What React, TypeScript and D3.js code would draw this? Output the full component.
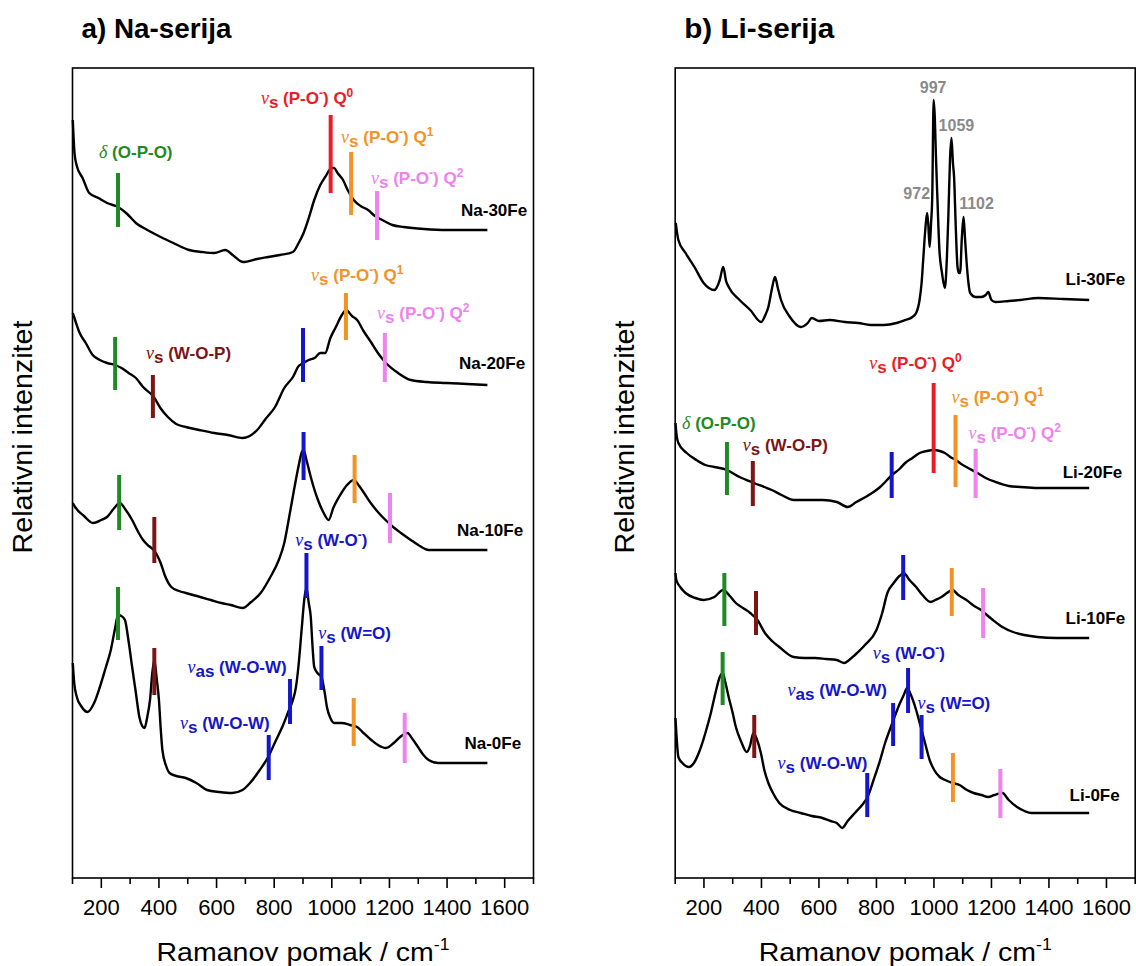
import * as d3 from "d3";

type Pt = [number, number];

// x axis
const majorTicks = [200, 400, 600, 800, 1000, 1200, 1400, 1600];
const minorTicks = [100, 300, 500, 700, 900, 1100, 1300, 1500, 1700];

// Na series (Raman shift cm-1, relative intensity incl. stacking offset)
const na30: Pt[] = [
  [101, 758], [107, 725], [115, 712], [135, 700], [158, 685], [190, 680], [220, 675], [258, 671],
  [290, 664], [320, 655], [360, 648], [406, 641], [450, 635], [505, 628], [550, 626], [592, 625],
  [630, 628], [660, 622], [692, 616], [740, 619], [779, 621], [820, 623], [865, 626], [885, 635],
  [902, 645], [920, 660], [939, 678], [960, 693], [977, 701], [1000, 710], [1008, 710], [1020, 705],
  [1039, 698], [1055, 688], [1076, 678], [1100, 672], [1126, 668], [1150, 662], [1175, 658],
  [1210, 653], [1250, 651], [1320, 649], [1398, 648], [1470, 648], [1540, 648],
];
const na20: Pt[] = [
  [101, 565], [109, 558], [125, 545], [146, 535], [170, 523], [195, 518], [220, 515], [248, 513],
  [270, 510], [295, 505], [320, 500], [345, 491], [382, 481], [405, 470], [431, 461], [460, 454],
  [493, 451], [540, 448], [592, 445], [640, 443], [691, 440], [741, 448], [770, 459], [803, 471],
  [835, 490], [865, 501], [885, 512], [902, 515], [920, 518], [940, 520], [960, 525], [977, 525],
  [995, 540], [1014, 551], [1035, 563], [1050, 568], [1070, 562], [1088, 558], [1110, 547],
  [1138, 535], [1160, 525], [1188, 515], [1230, 505], [1274, 498], [1330, 496], [1398, 495],
  [1470, 494], [1540, 493],
];
const na10: Pt[] = [
  [101, 375], [109, 371], [140, 362], [171, 355], [200, 358], [220, 361], [245, 370], [264, 375],
  [285, 368], [307, 358], [330, 345], [345, 338], [365, 332], [382, 328], [395, 322], [406, 315],
  [420, 303], [443, 291], [470, 287], [493, 285], [543, 281], [580, 278], [617, 275], [650, 273],
  [691, 270], [720, 276], [753, 285], [785, 300], [816, 318], [835, 335], [852, 361], [870, 390],
  [884, 411], [895, 425], [902, 428], [912, 418], [927, 401], [940, 388], [952, 378], [970, 366],
  [989, 358], [1005, 370], [1025, 381], [1050, 392], [1076, 398], [1095, 392], [1112, 385],
  [1135, 375], [1163, 365], [1190, 357], [1213, 351], [1240, 345], [1274, 338], [1300, 333],
  [1336, 328], [1400, 328], [1470, 328], [1540, 328],
];
const na0: Pt[] = [
  [101, 215], [106, 195], [115, 181], [130, 172], [152, 166], [175, 175], [195, 191], [215, 210],
  [233, 228], [248, 250], [258, 263], [270, 262], [282, 258], [295, 236], [307, 211], [320, 185],
  [332, 161], [342, 152], [350, 150], [360, 162], [369, 178], [377, 205], [384, 218], [392, 200],
  [400, 178], [406, 150], [412, 128], [425, 112], [437, 105], [460, 102], [493, 100], [530, 95],
  [567, 88], [610, 86], [654, 85], [690, 88], [716, 95], [750, 108], [779, 121], [805, 137],
  [828, 151], [850, 167], [865, 178], [875, 190], [884, 211], [896, 251], [905, 280], [912, 290],
  [920, 275], [927, 261], [933, 232], [939, 211], [950, 205], [964, 201], [975, 186], [983, 171],
  [995, 160], [1008, 155], [1035, 155], [1063, 153], [1088, 151], [1110, 145], [1137, 138],
  [1160, 133], [1188, 130], [1215, 135], [1237, 141], [1262, 145], [1280, 139], [1299, 131],
  [1318, 123], [1336, 118], [1370, 115], [1411, 115], [1470, 115], [1540, 115],
];

// Li series
const li30: Pt[] = [
  [102, 655], [111, 638], [136, 625], [167, 611], [199, 595], [236, 588], [255, 598], [267, 611],
  [277, 597], [286, 591], [324, 578], [361, 568], [399, 556], [412, 562], [424, 571], [437, 590],
  [447, 601], [457, 590], [468, 578], [499, 561], [537, 551], [561, 555], [575, 560], [600, 557],
  [637, 558], [690, 556], [737, 555], [780, 553], [825, 553], [870, 555], [900, 558], [925, 561],
  [938, 565], [950, 578], [957, 595], [963, 620], [969, 645], [976, 665], [980, 655], [985, 631],
  [990, 655], [994, 680], [999, 778], [1003, 760], [1007, 721], [1012, 680], [1019, 628],
  [1028, 605], [1038, 590], [1045, 620], [1050, 661], [1056, 720], [1061, 740], [1066, 715],
  [1070, 701], [1076, 650], [1082, 611], [1087, 605], [1091, 605], [1097, 640], [1103, 661],
  [1108, 640], [1113, 618], [1120, 595], [1126, 585], [1145, 581], [1164, 581], [1180, 583],
  [1189, 586], [1200, 578], [1214, 576], [1260, 577], [1300, 578], [1363, 580], [1450, 579],
  [1540, 578],
];
const li20: Pt[] = [
  [101, 455], [104, 445], [111, 435], [140, 425], [174, 418], [205, 413], [236, 411], [280, 408],
  [324, 401], [374, 395], [410, 391], [436, 388], [470, 383], [512, 378], [560, 378], [612, 378],
  [662, 376], [700, 371], [730, 376], [762, 381], [790, 386], [813, 391], [854, 403], [880, 409],
  [900, 415], [925, 420], [950, 425], [975, 427], [1001, 428], [1020, 427], [1038, 425],
  [1057, 421], [1076, 418], [1095, 414], [1113, 411], [1151, 405], [1180, 400], [1214, 396],
  [1260, 392], [1301, 391], [1360, 390], [1426, 390], [1540, 390],
];
const li10: Pt[] = [
  [101, 305], [104, 298], [120, 290], [136, 285], [170, 280], [199, 278], [236, 281], [267, 288],
  [290, 282], [311, 275], [336, 270], [361, 265], [386, 258], [412, 245], [437, 237], [462, 231],
  [512, 221], [550, 220], [587, 220], [625, 219], [662, 218], [688, 215], [705, 218], [725, 223],
  [760, 233], [800, 248], [820, 265], [838, 285], [860, 295], [880, 302], [895, 305], [915, 298],
  [938, 291], [960, 283], [988, 276], [1005, 278], [1026, 281], [1045, 285], [1064, 288],
  [1085, 283], [1113, 278], [1140, 272], [1164, 268], [1176, 265], [1205, 258], [1238, 251],
  [1275, 246], [1314, 243], [1360, 241], [1426, 240], [1540, 240],
];
const li0: Pt[] = [
  [101, 160], [104, 145], [111, 121], [125, 115], [148, 111], [165, 115], [186, 128], [205, 145],
  [224, 165], [240, 185], [255, 201], [265, 205], [275, 195], [286, 181], [300, 165], [311, 151],
  [330, 136], [349, 126], [360, 132], [372, 145], [385, 138], [398, 125], [410, 108], [424, 95],
  [440, 85], [462, 75], [500, 68], [537, 65], [575, 62], [612, 60], [640, 57], [662, 55], [681, 50],
  [700, 57], [725, 65], [750, 73], [769, 81], [790, 98], [813, 118], [830, 135], [850, 151],
  [868, 165], [882, 175], [895, 183], [907, 190], [920, 183], [938, 168], [955, 150], [969, 135],
  [985, 118], [1001, 108], [1020, 101], [1039, 98], [1065, 95], [1089, 93], [1115, 88], [1138, 85],
  [1165, 83], [1189, 81], [1210, 83], [1238, 85], [1260, 78], [1289, 71], [1315, 67], [1339, 65],
  [1400, 65], [1470, 65], [1540, 65],
];

// sample names and where their label ends (cm-1, intensity)
const naNames: [string, number, number][] = [
  ["Na-30Fe", 1678, 662], ["Na-20Fe", 1671, 509], ["Na-10Fe", 1664, 342], ["Na-0Fe", 1657, 129],
];
const liNames: [string, number, number][] = [
  ["Li-30Fe", 1665, 593], ["Li-20Fe", 1655, 400], ["Li-10Fe", 1665, 254], ["Li-0Fe", 1646, 77],
];

// band markers: mode, position, from, to
const naBands: [string, number, number, number][] = [
  ["OPO", 258, 651, 705], ["Q0", 996, 685, 763], ["Q1", 1067, 663, 726], ["Q2", 1157, 638, 687],
  ["OPO", 248, 488, 541], ["WOP", 379, 460, 503], ["W", 900, 496, 550], ["Q1", 1049, 538, 585],
  ["Q2", 1184, 496, 545],
  ["OPO", 262, 348, 403], ["WOP", 384, 315, 361], ["W", 902, 398, 446], ["Q1", 1079, 375, 423],
  ["Q2", 1202, 335, 385],
  ["OPO", 258, 238, 291], ["WOP", 384, 183, 230], ["W", 781, 98, 143], ["W", 855, 154, 199],
  ["W", 912, 280, 325], ["W", 964, 188, 232], ["Q1", 1076, 132, 180], ["Q2", 1253, 115, 165],
];
const liBands: [string, number, number, number][] = [
  ["OPO", 280, 383, 436], ["WOP", 370, 372, 417], ["W", 853, 380, 426], ["Q0", 999, 405, 495],
  ["Q1", 1075, 391, 463], ["Q2", 1145, 380, 429],
  ["OPO", 271, 252, 305], ["WOP", 381, 243, 287], ["W", 893, 278, 323], ["Q1", 1062, 262, 310],
  ["Q2", 1171, 240, 290],
  ["OPO", 265, 173, 226], ["WOP", 375, 120, 163], ["W", 768, 61, 105], ["W", 858, 132, 175],
  ["W", 910, 165, 210], ["W", 957, 119, 163], ["Q1", 1066, 76, 125], ["Q2", 1231, 60, 109],
];

// band assignment labels: mode, start (cm-1), baseline (intensity)
const naBandLabels: [string, number, number][] = [
  ["OPO", 192, 720], ["Q0", 754, 774], ["Q1", 1032, 735], ["Q2", 1136, 694], ["Q1", 928, 597],
  ["Q2", 1157, 559], ["WOP", 355, 519], ["WOm", 873, 332], ["WdO", 953, 239], ["asWOW", 499, 205],
  ["sWOW", 473, 149],
];
const liBandLabels: [string, number, number][] = [
  ["Q0", 775, 509], ["Q1", 1061, 475], ["Q2", 1120, 439], ["OPO", 124, 449], ["WOP", 335, 427],
  ["WOm", 787, 219], ["asWOW", 491, 182], ["WdO", 943, 169], ["sWOW", 456, 109],
];

// Li-30Fe peak positions: text, centre (cm-1), baseline (intensity)
const liPeaks: [string, number, number][] = [
  ["997", 997, 785], ["1059", 1078, 747], ["972", 940, 679], ["1102", 1148, 669],
];

type Seg = [string, string];
const bandText: Record<string, Seg[]> = {
  OPO: [["g", "δ"], ["n", " (O-P-O)"]],
  Q0: [["g", "ν"], ["sub", "s"], ["n", " (P-O"], ["sup", "-"], ["n", ") Q"], ["sup", "0"]],
  Q1: [["g", "ν"], ["sub", "s"], ["n", " (P-O"], ["sup", "-"], ["n", ") Q"], ["sup", "1"]],
  Q2: [["g", "ν"], ["sub", "s"], ["n", " (P-O"], ["sup", "-"], ["n", ") Q"], ["sup", "2"]],
  WOP: [["g", "ν"], ["sub", "s"], ["n", " (W-O-P)"]],
  WOm: [["g", "ν"], ["sub", "s"], ["n", " (W-O"], ["sup", "-"], ["n", ")"]],
  WdO: [["g", "ν"], ["sub", "s"], ["n", " (W=O)"]],
  asWOW: [["g", "ν"], ["sub", "as"], ["n", " (W-O-W)"]],
  sWOW: [["g", "ν"], ["sub", "s"], ["n", " (W-O-W)"]],
};
const bandColor: Record<string, string> = {
  OPO: "#1f8a24", Q0: "#ec1c24", Q1: "#f39325", Q2: "#ee82ee", WOP: "#7d1416",
  W: "#1515cc", WOm: "#1515cc", WdO: "#1515cc", asWOW: "#1515cc", sWOW: "#1515cc",
};

const FONT = "Liberation Sans, Arial, sans-serif";
const yScale = d3.scaleLinear().domain([0, 810]).range([878, 68]);

function Segs({ segs }: { segs: Seg[] }) {
  let shift = 0;
  return (
    <>
      {segs.map(([k, t], i) => {
        const target = k === "sup" ? -7 : k === "sub" ? 4 : 0;
        const dy = target - shift;
        shift = target;
        return (
          <tspan
            key={i}
            dy={dy}
            fontSize={k === "sup" ? 12 : k === "g" ? 18 : undefined}
            fontFamily={k === "g" ? "Liberation Serif, serif" : undefined}
            fontStyle={k === "g" ? "italic" : undefined}
            fontWeight={k === "g" ? "normal" : undefined}
          >
            {t}
          </tspan>
        );
      })}
    </>
  );
}

function Panel(props: {
  x0: number; x1: number; title: string; yTitleX: number;
  series: Pt[][]; names: [string, number, number][];
  bands: [string, number, number, number][]; bandLabels: [string, number, number][];
  peaks?: [string, number, number][];
}) {
  const { x0, x1, title, yTitleX, series, names, bands, bandLabels, peaks } = props;
  const x = d3.scaleLinear().domain([100, 1700]).range([x0, x1]);
  const line = d3.line<Pt>().x((d) => x(d[0])).y((d) => yScale(d[1])).curve(d3.curveMonotoneX);
  const [yb, yt] = yScale.range();
  const cx = (x0 + x1) / 2;

  return (
    <g fontFamily={FONT}>
      <text x={x0 + 9} y={38} fontSize={27} fontWeight="bold" textLength={150} lengthAdjust="spacingAndGlyphs">
        {title}
      </text>
      {series.map((s, i) => (
        <path key={i} d={line(s) ?? ""} fill="none" stroke="#000" strokeWidth={2.4} strokeLinejoin="round" />
      ))}
      {bands.map(([m, p, lo, hi], i) => (
        <line key={i} x1={x(p)} x2={x(p)} y1={yScale(lo)} y2={yScale(hi)} stroke={bandColor[m]} strokeWidth={4} />
      ))}
      {bandLabels.map(([m, p, b], i) => (
        <text key={i} x={x(p)} y={yScale(b)} fontSize={17} fontWeight="bold" fill={bandColor[m]}>
          <Segs segs={bandText[m]} />
        </text>
      ))}
      {(peaks ?? []).map(([t, p, b], i) => (
        <text key={i} x={x(p)} y={yScale(b)} fontSize={16} fontWeight="bold" fill="#8a8a8a" textAnchor="middle">
          {t}
        </text>
      ))}
      {names.map(([t, p, b], i) => (
        <text key={i} x={x(p)} y={yScale(b)} fontSize={17} fontWeight="bold" textAnchor="end">
          {t}
        </text>
      ))}
      <rect x={x0} y={yt} width={x1 - x0} height={yb - yt} fill="none" stroke="#000" strokeWidth={1.6} />
      {majorTicks.map((t) => (
        <g key={t}>
          <line x1={x(t)} x2={x(t)} y1={yb} y2={yb + 10} stroke="#000" strokeWidth={1.6} />
          <text x={x(t)} y={915} fontSize={22} textAnchor="middle">
            {t}
          </text>
        </g>
      ))}
      {minorTicks.map((t) => (
        <line key={t} x1={x(t)} x2={x(t)} y1={yb} y2={yb + 6} stroke="#000" strokeWidth={1.6} />
      ))}
      <text x={cx} y={961} fontSize={26} textAnchor="middle" textLength={293} lengthAdjust="spacingAndGlyphs">
        Ramanov pomak / cm<tspan dy={-11} fontSize={16}>-1</tspan>
      </text>
      <text
        transform={`translate(${yTitleX},437) rotate(-90)`}
        fontSize={28}
        textAnchor="middle"
        textLength={233}
        lengthAdjust="spacingAndGlyphs"
      >
        Relativni intenzitet
      </text>
    </g>
  );
}

export default function App() {
  return (
    <svg
      width={1136}
      height={966}
      style={{ position: "absolute", left: 0, top: 0, background: "#fff" }}
    >
      <rect width={1136} height={966} fill="#fff" />
      <Panel
        x0={72.5}
        x1={533.5}
        title="a) Na-serija"
        yTitleX={32}
        series={[na30, na20, na10, na0]}
        names={naNames}
        bands={naBands}
        bandLabels={naBandLabels}
      />
      <Panel
        x0={675.2}
        x1={1135.2}
        title="b) Li-serija"
        yTitleX={634}
        series={[li30, li20, li10, li0]}
        names={liNames}
        bands={liBands}
        bandLabels={liBandLabels}
        peaks={liPeaks}
      />
    </svg>
  );
}
